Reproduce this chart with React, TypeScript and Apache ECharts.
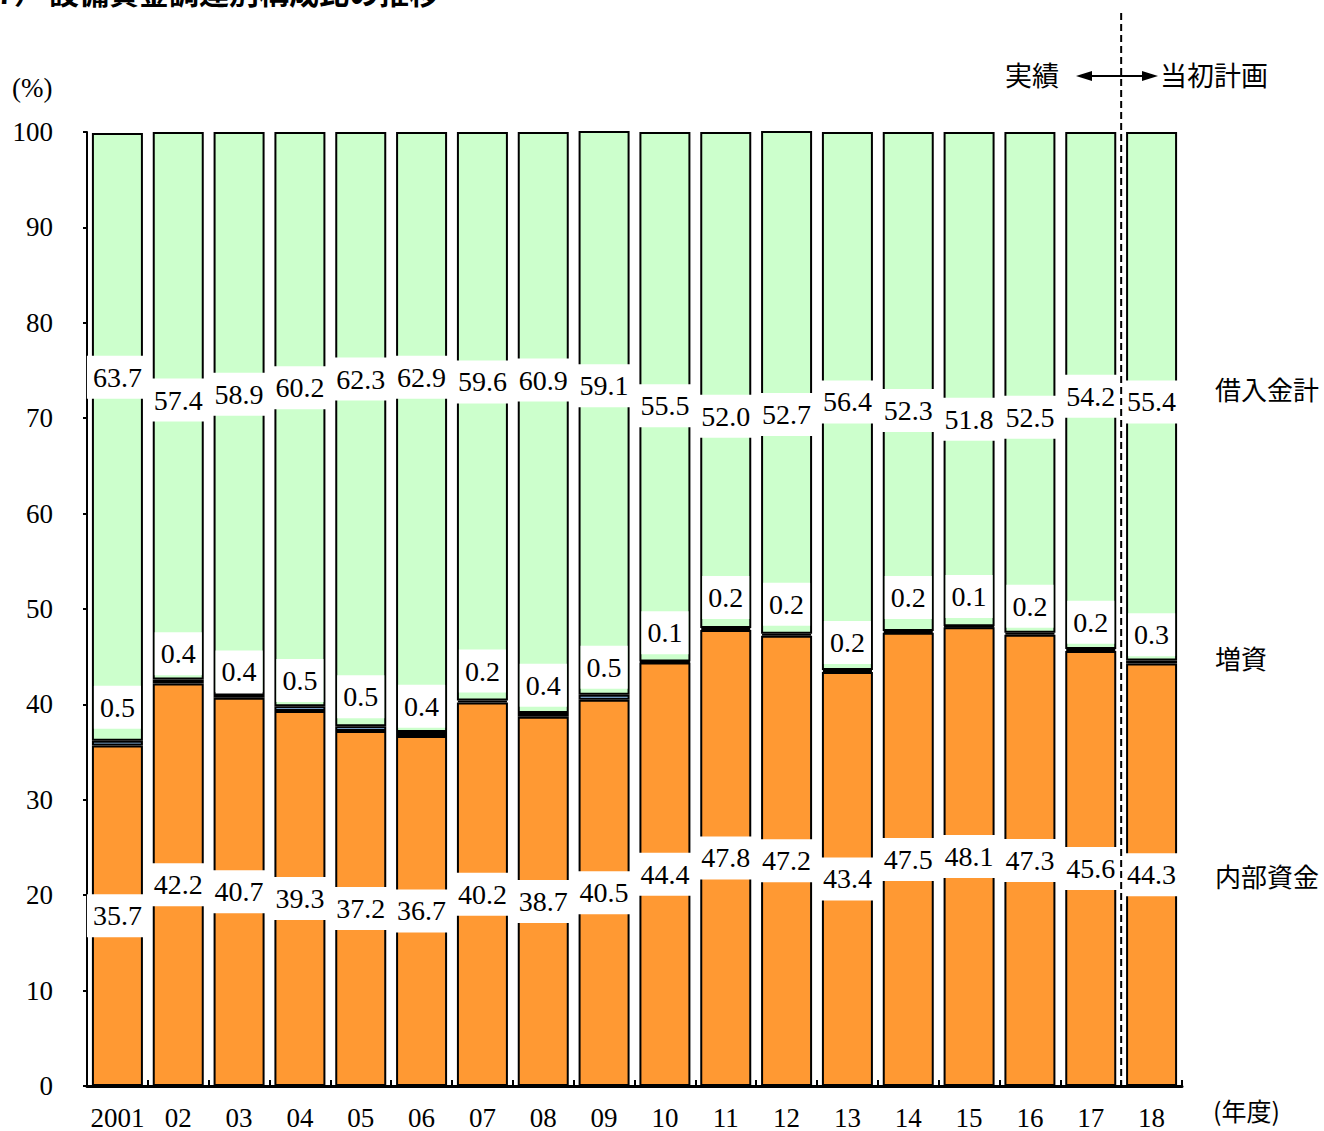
import React, { useEffect, useRef } from "react";
import * as echarts from "echarts";

// Fiscal years
const categories = ["2001", "02", "03", "04", "05", "06", "07", "08", "09", "10", "11", "12", "13", "14", "15", "16", "17", "18"];
// 内部資金 (%)
const internalFunds = [35.7, 42.2, 40.7, 39.3, 37.2, 36.7, 40.2, 38.7, 40.5, 44.4, 47.8, 47.2, 43.4, 47.5, 48.1, 47.3, 45.6, 44.3];
// 増資 (%)
const capitalIncrease = [0.5, 0.4, 0.4, 0.5, 0.5, 0.4, 0.2, 0.4, 0.5, 0.1, 0.2, 0.2, 0.2, 0.2, 0.1, 0.2, 0.2, 0.3];
// 借入金計 (%)
const borrowings = [63.7, 57.4, 58.9, 60.2, 62.3, 62.9, 59.6, 60.9, 59.1, 55.5, 52.0, 52.7, 56.4, 52.3, 51.8, 52.5, 54.2, 55.4];

// Axis level (in %) where the callout boxes for the thin segments sit
const borrowingLabelAt = [74.3, 71.9, 72.5, 73.2, 74.1, 74.3, 73.8, 74.0, 73.4, 71.3, 70.2, 70.4, 71.7, 70.8, 69.9, 70.1, 72.3, 71.7];
const capitalLabelAt = [39.7, 45.3, 43.4, 42.5, 40.8, 39.8, 43.5, 42.0, 43.9, 47.5, 51.2, 50.5, 46.5, 51.2, 51.3, 50.3, 48.6, 47.3];

const yTicks = { min: 0, max: 100, interval: 10 };

const SERIF = "Liberation Serif, DejaVu Serif, serif";
const JP = "Noto Sans CJK JP, sans-serif";

const GRID = { left: 87, top: 132, width: 1095, height: 955 };

const labelBox = {
  show: true,
  color: "#000",
  fontFamily: SERIF,
  fontSize: 28,
  backgroundColor: "#fff",
  opacity: 1,
  padding: [8, 6, 7, 6],
};

export default function App() {
  const ref = useRef<HTMLDivElement>(null);

  useEffect(() => {
    if (!ref.current) return;
    const chart = echarts.init(ref.current, null, { renderer: "svg" });

    const band = GRID.width / categories.length;
    const splitX = GRID.left + band * (categories.length - 1);
    const arrowY = 76;

    const calloutSeries = (name: string, anchors: number[], values: number[]) => ({
      name,
      type: "scatter",
      symbolSize: 0,
      z: 10,
      silent: true,
      itemStyle: { opacity: 1, color: "transparent" },
      data: anchors.map((v, i) => [i, v]),
      label: { ...labelBox, position: "inside", formatter: (p: any) => values[p.dataIndex].toFixed(1) },
    });

    const option = {
      animation: false,
      grid: { ...GRID, containLabel: false },
      xAxis: {
        type: "category",
        data: categories,
        axisLine: { lineStyle: { color: "#000", width: 3 } },
        axisTick: { show: true, inside: true, interval: 0, length: 6, lineStyle: { color: "#000", width: 2 } },
        axisLabel: { color: "#000", fontFamily: SERIF, fontSize: 27, margin: 18, interval: 0 },
      },
      yAxis: {
        type: "value",
        ...yTicks,
        splitLine: { show: false },
        axisLine: { show: true, lineStyle: { color: "#000", width: 2 } },
        axisTick: { show: true, length: 4, lineStyle: { color: "#000", width: 2 } },
        axisLabel: { color: "#000", fontFamily: SERIF, fontSize: 27, margin: 34 },
      },
      series: [
        {
          name: "内部資金",
          type: "bar",
          stack: "total",
          barWidth: 51,
          data: internalFunds,
          itemStyle: { color: "#FF9933", borderColor: "#000", borderWidth: 2 },
          label: { ...labelBox, position: "inside", formatter: (p: any) => Number(p.value).toFixed(1) },
        },
        {
          name: "増資",
          type: "bar",
          stack: "total",
          barWidth: 51,
          data: capitalIncrease,
          itemStyle: { color: "#99CCFF", borderColor: "#000", borderWidth: 2 },
        },
        {
          name: "借入金計",
          type: "bar",
          stack: "total",
          barWidth: 51,
          data: borrowings,
          itemStyle: { color: "#CCFFCC", borderColor: "#000", borderWidth: 2 },
        },
        calloutSeries("増資ラベル", capitalLabelAt, capitalIncrease),
        calloutSeries("借入金計ラベル", borrowingLabelAt, borrowings),
      ],
      graphic: [
        // Title (runs off the top edge)
        {
          type: "text",
          x: 44,
          y: -9,
          style: { text: "（7）", fontFamily: JP, fontSize: 30, fontWeight: "bold", fill: "#000", align: "right", verticalAlign: "middle" },
        },
        {
          type: "text",
          x: 49,
          y: -9,
          style: { text: "設備資金調達別構成比の推移", fontFamily: JP, fontSize: 30, fontWeight: "bold", fill: "#000", align: "left", verticalAlign: "middle" },
        },
        {
          type: "text",
          x: 12,
          y: 88,
          style: { text: "(%)", fontFamily: SERIF, fontSize: 27, fill: "#000", verticalAlign: "middle" },
        },
        {
          type: "text",
          x: 1213,
          y: 1110,
          style: { text: "(年度)", fontFamily: JP, fontSize: 25, fill: "#000", verticalAlign: "middle" },
        },
        // Series names on the right
        { type: "text", x: 1215, y: 388, style: { text: "借入金計", fontFamily: JP, fontSize: 26, fill: "#000", verticalAlign: "middle" } },
        { type: "text", x: 1215, y: 657, style: { text: "増資", fontFamily: JP, fontSize: 26, fill: "#000", verticalAlign: "middle" } },
        { type: "text", x: 1215, y: 875, style: { text: "内部資金", fontFamily: JP, fontSize: 26, fill: "#000", verticalAlign: "middle" } },
        // Actual / plan divider
        {
          type: "line",
          z: 20,
          shape: { x1: splitX, y1: 13, x2: splitX, y2: GRID.top + GRID.height },
          style: { stroke: "#000", lineWidth: 2, lineDash: [7, 4] },
        },
        {
          type: "line",
          shape: { x1: 1088, y1: arrowY, x2: 1148, y2: arrowY },
          style: { stroke: "#000", lineWidth: 2 },
        },
        {
          type: "polygon",
          shape: { points: [[1076, arrowY], [1092, arrowY - 5], [1092, arrowY + 5]] },
          style: { fill: "#000" },
        },
        {
          type: "polygon",
          shape: { points: [[1158, arrowY], [1142, arrowY - 5], [1142, arrowY + 5]] },
          style: { fill: "#000" },
        },
        { type: "text", x: 1005, y: arrowY - 2, style: { text: "実績", fontFamily: JP, fontSize: 27, fill: "#000", verticalAlign: "middle" } },
        { type: "text", x: 1160, y: arrowY - 2, style: { text: "当初計画", fontFamily: JP, fontSize: 27, fill: "#000", verticalAlign: "middle" } },
      ],
    };

    chart.setOption(option as any);
    return () => chart.dispose();
  }, []);

  return (
    <div
      ref={ref}
      style={{ position: "fixed", left: 0, top: 0, width: 1324, height: 1131, background: "#fff" }}
    />
  );
}
